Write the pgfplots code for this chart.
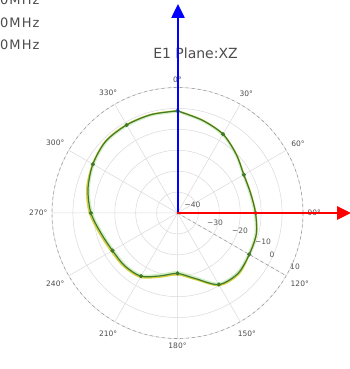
\documentclass[border=0pt]{standalone}
\usepackage{pgfplots}
\pgfplotsset{compat=1.18}
\usepackage{pgfplotstable}
\usepgfplotslibrary{polar}
\usetikzlibrary{arrows.meta}
\usepackage{fontspec}
\setmainfont{DejaVu Sans}
\definecolor{dkgreen}{HTML}{3F7A2A}
\definecolor{ltgreen}{HTML}{A8DC8C}
\definecolor{yel}{HTML}{D8D040}

% compass angle (deg, clockwise from top), gain (dBi)
\pgfplotstableread{
a d
0 -1.2
15 -4.1
30 -6.5
45 -10.3
60 -13.4
75 -13.8
90 -12.7
105 -11.0
120 -10.4
135 -9.1
150 -10.5
165 -17.6
180 -21.1
195 -18.9
210 -15.1
225 -14.3
240 -14.1
255 -12.2
270 -8.6
285 -5.7
300 -3.3
315 -1.5
330 -1.4
345 -1.3
360 -1.2
}\tgreen

\pgfplotstableread{
a d
0 -1.1
15 -4.0
30 -6.4
45 -10.2
60 -13.3
75 -13.7
90 -12.6
105 -10.9
120 -10.3
135 -8.6
150 -10.0
165 -17.1
180 -20.5
195 -18.3
210 -14.5
225 -13.7
240 -13.4
255 -11.5
270 -7.9
285 -5.1
300 -3.1
315 -1.3
330 -1.2
345 -1.2
360 -1.1
}\tyellow

\pgfplotstableread{
a d
0 -1.4
15 -4.3
30 -6.8
45 -10.5
60 -13.6
75 -14.1
90 -13.0
105 -11.3
120 -10.7
135 -9.4
150 -10.9
165 -18.1
180 -21.6
195 -19.4
210 -15.5
225 -14.7
240 -14.5
255 -12.6
270 -9.0
285 -6.0
300 -3.6
315 -1.8
330 -1.7
345 -1.6
360 -1.4
}\tlight

\begin{document}
\begin{tikzpicture}[x=1pt,y=1pt]
\useasboundingbox (0,0) rectangle (350,369);
\clip (0,0) rectangle (350,369);

\begin{polaraxis}[
  at={(177.5pt,156pt)}, anchor=center,
  width=251pt, height=251pt, scale only axis,
  xmin=0, xmax=360, ymin=0, ymax=60,
  xtick={0,30,...,330},
  xticklabels={90°,60°,30°,0°,330°,300°,270°,240°,210°,180°,150°,120°},
  ytick={10,20,...,60}, yticklabels={},
  grid=major,
  major grid style={gray!30, line width=0.5pt},
  axis line style={gray!75, dashed, line width=0.6pt},
  tick style={draw=none},
  xticklabel style={font=\fontsize{7.5}{9}\selectfont, text=black!70, inner sep=4.5pt},
]
\addplot[ltgreen, line width=2.6pt, opacity=0.5, smooth]
  table[x expr=90-\thisrow{a}, y expr=\thisrow{d}+50]{\tlight};
\addplot[yel, line width=1.5pt, smooth]
  table[x expr=90-\thisrow{a}, y expr=\thisrow{d}+50]{\tyellow};
\addplot[dkgreen, line width=1.2pt, smooth, mark=*, mark repeat=2,
  mark size=1.4pt, mark options={fill=dkgreen, draw=dkgreen}]
  table[x expr=90-\thisrow{a}, y expr=\thisrow{d}+50]{\tgreen};
\end{polaraxis}

% radial label spoke (120 deg)
\draw[gray!75, dashed, line width=0.6pt] (177.5,156) -- (286.2,93.25);

% radial labels
\begin{scope}[every node/.style={font=\fontsize{7.5}{9}\selectfont, text=black!65, inner sep=0pt}]
\node at (192.5,164) {−40};
\node at (215,146) {−30};
\node at (240,138) {−20};
\node at (263,127) {−10};
\node at (272,114) {0};
\node at (295,102) {10};
\end{scope}

% title
\node[font=\fontsize{14}{16}\selectfont, text=black!70] at (195.5,316) {E1 Plane:XZ};

% legend (partly outside the crop in the reference)
\begin{scope}[every node/.style={font=\fontsize{13}{15}\selectfont\addfontfeature{LetterSpace=8}, text=black!70, anchor=base west, inner sep=0pt}]
\node at (0,364.5) {0MHz};
\node at (0,341) {0MHz};
\node at (0,319) {0MHz};
\end{scope}

% coordinate arrows
\draw[blue, line width=2.5pt, -{Triangle[length=14pt,width=13pt]}] (178,156) -- (178,365);
\draw[red, line width=2.8pt, -{Triangle[length=14pt,width=13pt]}] (177,156) -- (351,156);
\end{tikzpicture}
\end{document}
